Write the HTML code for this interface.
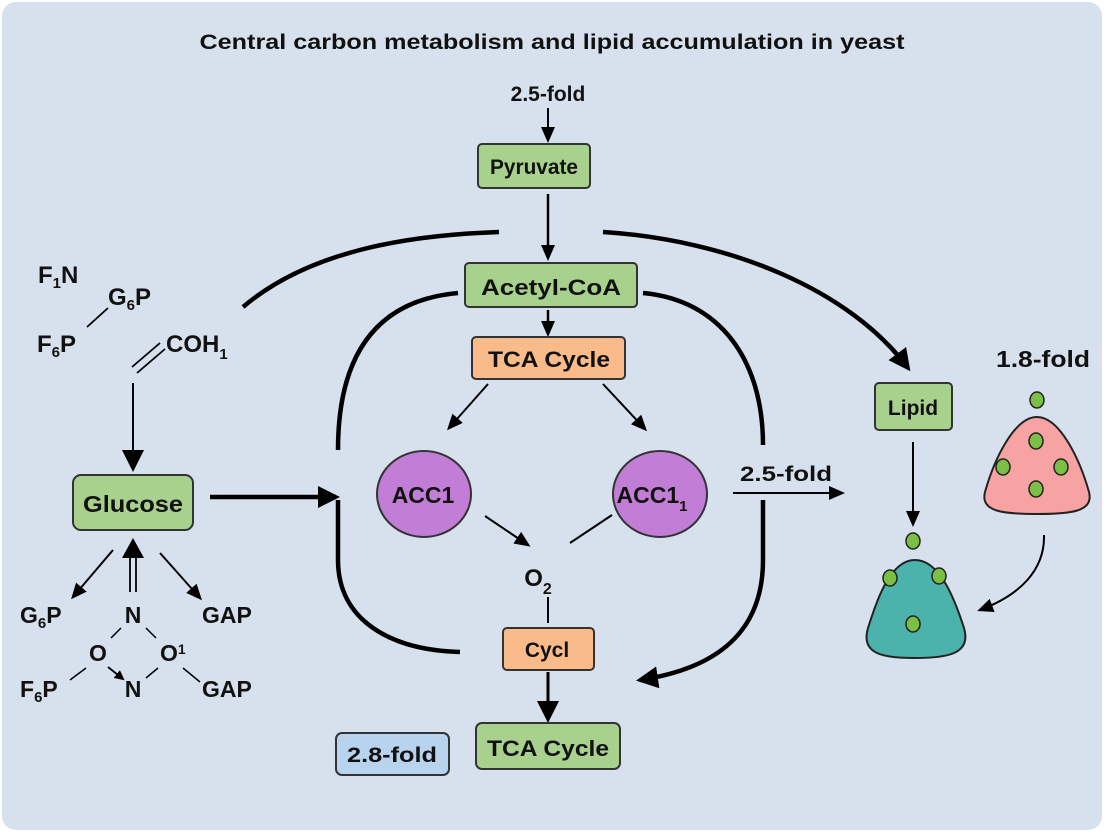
<!DOCTYPE html>
<html><head><meta charset="utf-8"><style>
html,body{margin:0;padding:0;background:#fff;}
svg{display:block;}
text{font-family:"Liberation Sans",sans-serif;font-weight:bold;fill:#111;}
</style></head><body>
<svg width="1104" height="832" viewBox="0 0 1104 832" xmlns="http://www.w3.org/2000/svg">
<defs>
<marker id="ah" markerWidth="10" markerHeight="10" refX="8" refY="5" orient="auto" markerUnits="userSpaceOnUse" viewBox="0 0 10 10"><path d="M0,0 L10,5 L0,10 z" fill="#000"/></marker>
<marker id="ahL" markerWidth="22" markerHeight="22" refX="18" refY="11" orient="auto" markerUnits="userSpaceOnUse" viewBox="0 0 22 22"><path d="M0,0 L22,11 L0,22 z" fill="#000"/></marker>
<marker id="ahM" markerWidth="16" markerHeight="16" refX="13" refY="8" orient="auto" markerUnits="userSpaceOnUse" viewBox="0 0 16 16"><path d="M0,1 L16,8 L0,15 z" fill="#000"/></marker>
</defs>
<rect x="2" y="2" width="1100" height="828" rx="14" fill="#d7e1ee"/>
<text x="552" y="49" font-size="21" text-anchor="middle" textLength="705" lengthAdjust="spacingAndGlyphs">Central carbon metabolism and lipid accumulation in yeast</text>

<text x="548" y="101" font-size="21" text-anchor="middle">2.5-fold</text>
<line x1="548" y1="108" x2="548" y2="140" stroke="#000" stroke-width="2" marker-end="url(#ahM)"/>
<rect x="478" y="144" width="112" height="44" rx="4" fill="#a9d18e" stroke="#333" stroke-width="2"/>
<text x="534" y="174" font-size="21" text-anchor="middle" textLength="88" lengthAdjust="spacingAndGlyphs">Pyruvate</text>
<line x1="548" y1="194" x2="548" y2="258" stroke="#000" stroke-width="2.5" marker-end="url(#ahM)"/>
<rect x="465" y="263" width="172" height="44" rx="4" fill="#a9d18e" stroke="#333" stroke-width="2"/>
<text x="551" y="295" font-size="22" text-anchor="middle" textLength="140" lengthAdjust="spacingAndGlyphs">Acetyl-CoA</text>
<line x1="548" y1="310" x2="548" y2="334" stroke="#000" stroke-width="2.5" marker-end="url(#ahM)"/>
<rect x="472" y="337" width="153" height="42" rx="4" fill="#f9bb8a" stroke="#333" stroke-width="2"/>
<text x="549" y="367" font-size="22" text-anchor="middle" textLength="122" lengthAdjust="spacingAndGlyphs">TCA Cycle</text>

<path d="M243,307 C310,250 410,235 499,232" fill="none" stroke="#000" stroke-width="4.5"/>
<path d="M603,232 C730,240 850,290 908,368" fill="none" stroke="#000" stroke-width="4.5" marker-end="url(#ahL)"/>

<path d="M458,293 C380,300 338,350 338,450" fill="none" stroke="#000" stroke-width="4.5"/>
<path d="M338,500 L338,560 C338,620 390,650 460,652" fill="none" stroke="#000" stroke-width="4.5"/>
<path d="M643,293 C720,300 763,360 763,445" fill="none" stroke="#000" stroke-width="4.5"/>
<path d="M763,500 L763,560 C763,630 720,668 640,680" fill="none" stroke="#000" stroke-width="4.5" marker-end="url(#ahL)"/>

<line x1="488" y1="384" x2="449" y2="428" stroke="#000" stroke-width="2" marker-end="url(#ahM)"/>
<line x1="603" y1="384" x2="645" y2="429" stroke="#000" stroke-width="2" marker-end="url(#ahM)"/>
<ellipse cx="424" cy="494" rx="47" ry="43" fill="#c27ed6" stroke="#333" stroke-width="2"/>
<text x="423" y="503" font-size="23" text-anchor="middle">ACC1</text>
<ellipse cx="660" cy="494" rx="47" ry="43" fill="#c27ed6" stroke="#333" stroke-width="2"/>
<text x="652" y="503" font-size="23" text-anchor="middle">ACC1<tspan font-size="15" dy="8">1</tspan></text>
<line x1="485" y1="516" x2="528" y2="545" stroke="#000" stroke-width="2" marker-end="url(#ahM)"/>
<line x1="612" y1="515" x2="570" y2="543" stroke="#000" stroke-width="2"/>
<text x="538" y="586" font-size="24" text-anchor="middle">O<tspan font-size="16" dy="8">2</tspan></text>
<line x1="548" y1="597" x2="548" y2="623" stroke="#000" stroke-width="2"/>
<rect x="503" y="628" width="91" height="42" rx="4" fill="#f9bb8a" stroke="#333" stroke-width="2"/>
<text x="547" y="657" font-size="21" text-anchor="middle">Cycl</text>
<line x1="548" y1="672" x2="548" y2="719" stroke="#000" stroke-width="3" marker-end="url(#ahL)"/>
<rect x="476" y="723" width="144" height="46" rx="6" fill="#a9d18e" stroke="#333" stroke-width="2"/>
<text x="548" y="756" font-size="22" text-anchor="middle" textLength="122" lengthAdjust="spacingAndGlyphs">TCA Cycle</text>
<rect x="336" y="733" width="113" height="42" rx="6" fill="#b8d3ed" stroke="#333" stroke-width="2"/>
<text x="392" y="762" font-size="21" text-anchor="middle" textLength="90" lengthAdjust="spacingAndGlyphs">2.8-fold</text>

<text x="786" y="481" font-size="21" text-anchor="middle" textLength="92" lengthAdjust="spacingAndGlyphs">2.5-fold</text>
<line x1="733" y1="493" x2="842" y2="493" stroke="#000" stroke-width="2" marker-end="url(#ahM)"/>

<rect x="73" y="475" width="120" height="55" rx="8" fill="#a9d18e" stroke="#333" stroke-width="2"/>
<text x="133" y="512" font-size="23" text-anchor="middle" textLength="100" lengthAdjust="spacingAndGlyphs">Glucose</text>
<line x1="210" y1="497" x2="336" y2="497" stroke="#000" stroke-width="4.5" marker-end="url(#ahL)"/>

<text x="38" y="283" font-size="24">F<tspan font-size="15" dy="5">1</tspan><tspan dy="-5">N</tspan></text>
<text x="108" y="305" font-size="24">G<tspan font-size="15" dy="5">6</tspan><tspan dy="-5">P</tspan></text>
<text x="37" y="352" font-size="24">F<tspan font-size="15" dy="5">6</tspan><tspan dy="-5">P</tspan></text>
<text x="166" y="352" font-size="24">COH<tspan font-size="15" dy="7">1</tspan></text>
<line x1="87" y1="327" x2="108" y2="308" stroke="#000" stroke-width="1.8"/>
<line x1="132" y1="367" x2="160" y2="343" stroke="#000" stroke-width="1.8"/>
<line x1="137" y1="373" x2="165" y2="349" stroke="#000" stroke-width="1.8"/>
<line x1="133" y1="383" x2="133" y2="468" stroke="#000" stroke-width="2" marker-end="url(#ahL)"/>

<line x1="113" y1="550" x2="73" y2="597" stroke="#000" stroke-width="2" marker-end="url(#ahM)"/>
<line x1="160" y1="553" x2="200" y2="598" stroke="#000" stroke-width="2" marker-end="url(#ahM)"/>
<line x1="130" y1="592" x2="130" y2="555" stroke="#000" stroke-width="1.8"/>
<line x1="136" y1="592" x2="136" y2="555" stroke="#000" stroke-width="1.8"/>
<path d="M122,558 L133,538 L144,558 z" fill="#000"/>
<text x="20" y="623" font-size="23">G<tspan font-size="15" dy="5">6</tspan><tspan dy="-5">P</tspan></text>
<text x="133" y="623" font-size="23" text-anchor="middle">N</text>
<text x="202" y="623" font-size="23">GAP</text>
<text x="98" y="661" font-size="23" text-anchor="middle">O</text>
<text x="160" y="661" font-size="23">O<tspan font-size="14" dy="-7">1</tspan></text>
<text x="20" y="697" font-size="23">F<tspan font-size="15" dy="5">6</tspan><tspan dy="-5">P</tspan></text>
<text x="133" y="697" font-size="23" text-anchor="middle">N</text>
<text x="202" y="697" font-size="23">GAP</text>
<line x1="121" y1="628" x2="111" y2="638" stroke="#000" stroke-width="1.5"/>
<line x1="146" y1="628" x2="156" y2="638" stroke="#000" stroke-width="1.5"/>
<line x1="86" y1="668" x2="70" y2="680" stroke="#000" stroke-width="1.5"/>
<line x1="108" y1="667" x2="123" y2="679" stroke="#000" stroke-width="1.8" marker-end="url(#ah)"/>
<line x1="158" y1="668" x2="146" y2="678" stroke="#000" stroke-width="1.5"/>
<line x1="183" y1="668" x2="200" y2="682" stroke="#000" stroke-width="1.5"/>

<rect x="875" y="383" width="77" height="47" rx="4" fill="#a9d18e" stroke="#333" stroke-width="2"/>
<text x="913" y="415" font-size="21" text-anchor="middle">Lipid</text>
<line x1="913" y1="442" x2="913" y2="524" stroke="#000" stroke-width="2" marker-end="url(#ahM)"/>
<text x="1043" y="367" font-size="23" text-anchor="middle" textLength="94" lengthAdjust="spacingAndGlyphs">1.8-fold</text>

<path d="M1037,417 C1060,417 1080,460 1089,492 C1094,512 1070,514 1037,514 C1004,514 980,512 985,492 C994,460 1014,417 1037,417 z" fill="#f7a3a3" stroke="#222" stroke-width="2"/>
<ellipse cx="1037" cy="400" rx="7" ry="8" fill="#7bbf45" stroke="#222" stroke-width="1.5"/>
<ellipse cx="1036" cy="441" rx="7" ry="8" fill="#7bbf45" stroke="#222" stroke-width="1.5"/>
<ellipse cx="1003" cy="467" rx="7" ry="8" fill="#7bbf45" stroke="#222" stroke-width="1.5"/>
<ellipse cx="1061" cy="467" rx="7" ry="8" fill="#7bbf45" stroke="#222" stroke-width="1.5"/>
<ellipse cx="1036" cy="489" rx="7" ry="8" fill="#7bbf45" stroke="#222" stroke-width="1.5"/>
<path d="M1044,535 C1045,570 1020,595 980,610" fill="none" stroke="#000" stroke-width="2" marker-end="url(#ahM)"/>

<path d="M915,560 C940,560 955,600 964,628 C972,655 945,658 915,658 C885,658 860,655 868,628 C877,600 890,560 915,560 z" fill="#4bb3ab" stroke="#222" stroke-width="2"/>
<ellipse cx="913" cy="541" rx="7" ry="8" fill="#7bbf45" stroke="#222" stroke-width="1.5"/>
<ellipse cx="890" cy="578" rx="7" ry="8" fill="#7bbf45" stroke="#222" stroke-width="1.5"/>
<ellipse cx="939" cy="576" rx="7" ry="8" fill="#7bbf45" stroke="#222" stroke-width="1.5"/>
<ellipse cx="913" cy="624" rx="7" ry="8" fill="#7bbf45" stroke="#222" stroke-width="1.5"/>
</svg>
</body></html>
